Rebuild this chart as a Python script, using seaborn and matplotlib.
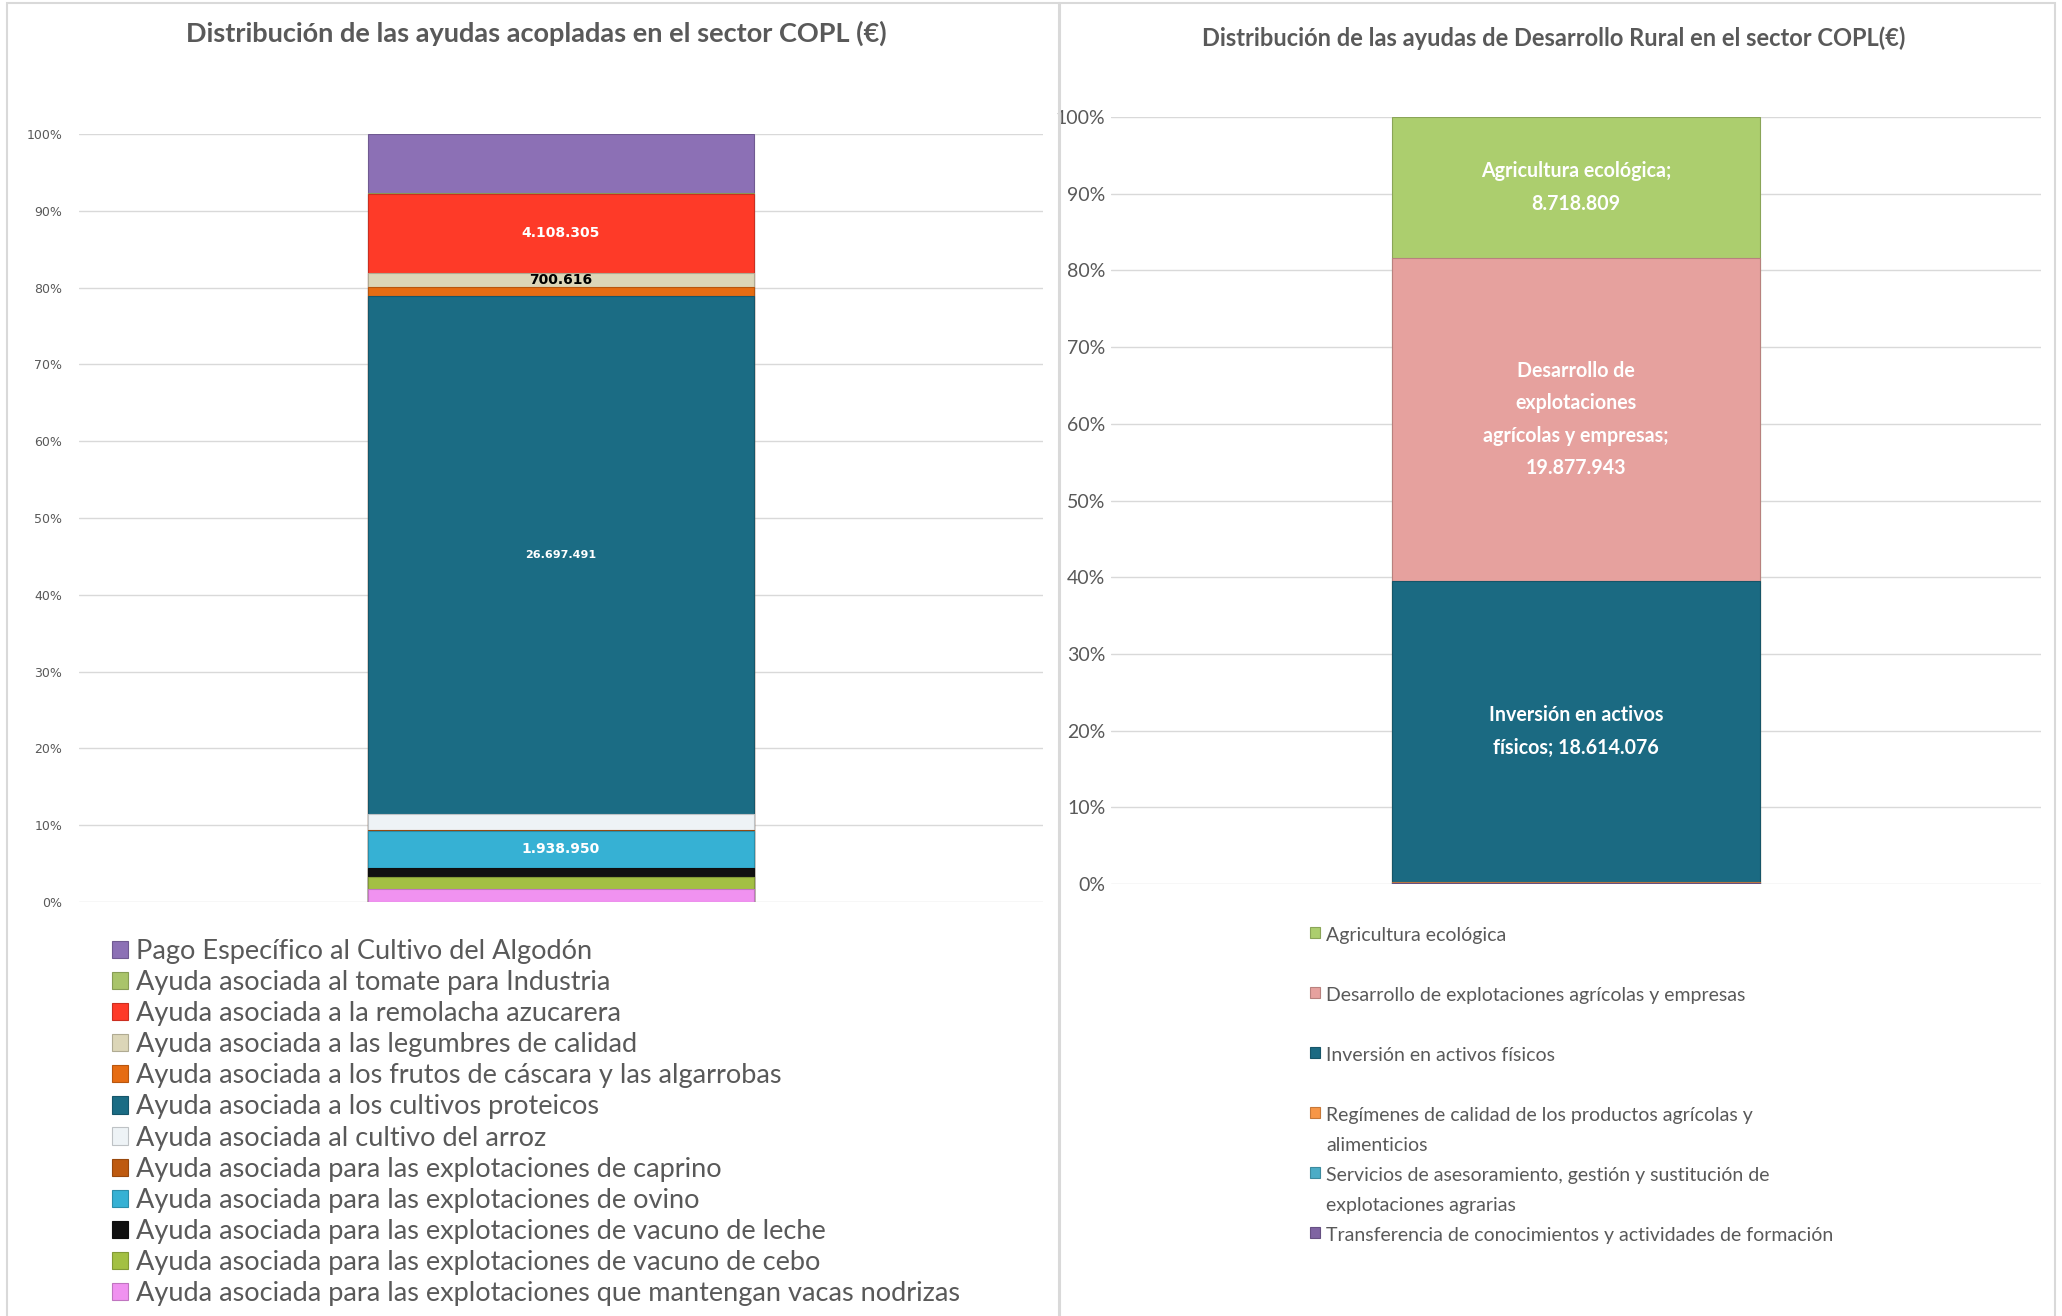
import numpy as np
import matplotlib
matplotlib.use("Agg")
import matplotlib.pyplot as plt
import matplotlib.colors as mcolors
from matplotlib.patches import Rectangle
import seaborn as sns

# ayudas acopladas (orden de la leyenda, de arriba abajo)
acop_names = [
    "Pago Específico al Cultivo del Algodón",
    "Ayuda asociada al tomate para Industria",
    "Ayuda asociada a la remolacha azucarera",
    "Ayuda asociada a las legumbres de calidad",
    "Ayuda asociada a los frutos de cáscara y las algarrobas",
    "Ayuda asociada a los cultivos proteicos",
    "Ayuda asociada al cultivo del arroz",
    "Ayuda asociada para las explotaciones de caprino",
    "Ayuda asociada para las explotaciones de ovino",
    "Ayuda asociada para las explotaciones de vacuno de leche",
    "Ayuda asociada para las explotaciones de vacuno de cebo",
    "Ayuda asociada para las explotaciones que mantengan vacas nodrizas",
]
acop_values = [3050000, 20000, 4108305, 700616, 475000, 26697491,
               830000, 40000, 1938950, 435000, 635000, 670000]
acop_colors = ["#8C70B5", "#A9C46A", "#FE3A28", "#DCD6B8", "#E66C12", "#1B6C84",
               "#EEF3F6", "#BE5A10", "#36B1D4", "#111111", "#A3C043", "#F092F0"]
acop_labeled = {"Ayuda asociada a la remolacha azucarera": "white",
                "Ayuda asociada a las legumbres de calidad": "black",
                "Ayuda asociada a los cultivos proteicos": "white",
                "Ayuda asociada para las explotaciones de ovino": "white"}

# desarrollo rural
dr_names = [
    "Agricultura ecológica",
    "Desarrollo de explotaciones agrícolas y empresas",
    "Inversión en activos físicos",
    "Regímenes de calidad de los productos agrícolas y\nalimenticios",
    "Servicios de asesoramiento, gestión y sustitución de\nexplotaciones agrarias",
    "Transferencia de conocimientos y actividades de formación",
]
dr_values = [8718809, 19877943, 18614076, 30000, 20000, 60000]
dr_colors = ["#ACCE6E", "#E6A19E", "#1B6A82", "#F79646", "#4BACC6", "#7F64A2"]
dr_text = {
    "Agricultura ecológica": "Agricultura ecológica;\n{}",
    "Desarrollo de explotaciones agrícolas y empresas": "Desarrollo de\nexplotaciones\nagrícolas y empresas;\n{}",
    "Inversión en activos físicos": "Inversión en activos\nfísicos; {}",
}

W, H = 2062, 1316
GRAY = "#595959"
CAL = ["Lato", "DejaVu Sans"]

sns.set_theme(style="white")
plt.rcParams["font.family"] = ["Lato", "DejaVu Sans"]


def fmt(v):
    return f"{v:,.0f}".replace(",", ".")


def darker(c, f=0.8):
    r, g, b = mcolors.to_rgb(c)
    return (r * f, g * f, b * f)


def stacked(ax, names, values, colors, width):
    total = sum(values)
    pct = np.array(values) / total * 100
    tops = np.cumsum(pct[::-1])[::-1]
    for top, col in zip(tops, colors):
        sns.barplot(x=[0], y=[top], color=col, width=width, saturation=1,
                    errorbar=None, edgecolor=darker(col), linewidth=0.8, ax=ax)
    ax.set_xlim(-0.5, 0.5)
    ax.set_ylim(0, 100)
    ax.set_xticks([])
    ax.set_xlabel("")
    ax.set_yticks(range(0, 101, 10))
    ax.set_yticklabels([f"{t}%" for t in range(0, 101, 10)])
    ax.yaxis.grid(True, color="#D9D9D9", lw=1)
    ax.set_axisbelow(True)
    for s in ax.spines.values():
        s.set_visible(False)
    return tops, pct


fig = plt.figure(figsize=(W / 100, H / 100), dpi=100)

# marcos de los dos gráficos
fig.add_artist(Rectangle((7 / W, -0.01), (1059 - 7) / W, 1 - 3 / H + 0.01,
                         transform=fig.transFigure, fill=False, ec="#D9D9D9", lw=1.5))
fig.add_artist(Rectangle((1060 / W, -0.01), (2055 - 1060) / W, 1 - 3 / H + 0.01,
                         transform=fig.transFigure, fill=False, ec="#D9D9D9", lw=1.5))

# ---- izquierda
ax1 = fig.add_axes([79 / W, 1 - 902 / H, 964 / W, 768 / H])
tops, pct = stacked(ax1, acop_names, acop_values, acop_colors, 0.4)
ax1.tick_params(axis="y", length=0, pad=12, labelsize=9, labelcolor=GRAY)
for lab in ax1.get_yticklabels():
    lab.set_family("DejaVu Sans")
for name, top, p, v in zip(acop_names, tops, pct, acop_values):
    if name in acop_labeled:
        size = 8 if p > 30 else 10
        ax1.text(0, top - p / 2, fmt(v), ha="center", va="center", fontsize=size,
                 fontweight="bold", color=acop_labeled[name], family="DejaVu Sans")
leg1 = ax1.legend(ax1.patches, acop_names, loc="upper left",
                  bbox_to_anchor=(112 / W, 1 - 939 / H), bbox_transform=fig.transFigure,
                  frameon=False, borderpad=0, borderaxespad=0,
                  handlelength=0.6, handleheight=0.6, handletextpad=0.3,
                  labelspacing=0.225, prop={"family": CAL, "size": 19.5})
for t in leg1.get_texts():
    t.set_color(GRAY)
fig.text(536 / W, 1 - 33 / H, "Distribución de las ayudas acopladas en el sector COPL (€)",
         ha="center", va="center", fontsize=19.5, fontweight="bold", color=GRAY, family=CAL)

# ---- derecha
ax2 = fig.add_axes([1111 / W, 1 - 884 / H, 930 / W, 767 / H])
tops, pct = stacked(ax2, dr_names, dr_values, dr_colors, 0.395)
ax2.tick_params(axis="y", length=0, pad=4, labelsize=14, labelcolor=GRAY)
for name, top, p, v in zip(dr_names, tops, pct, dr_values):
    if name in dr_text:
        ax2.text(0, top - p / 2, dr_text[name].format(fmt(v)), ha="center", va="center",
                 fontsize=14.1, fontweight="bold", color="white", family=CAL, linespacing=1.78)
dr_labels = [n if "\n" in n else n + "\n " for n in dr_names]
leg2 = ax2.legend(ax2.patches, dr_labels, loc="upper left",
                  bbox_to_anchor=(1310 / W, 1 - 927 / H), bbox_transform=fig.transFigure,
                  frameon=False, borderpad=0, borderaxespad=0,
                  handlelength=0.52, handleheight=0.52, handletextpad=0.3,
                  labelspacing=0.66, prop={"family": CAL, "size": 14})
for t in leg2.get_texts():
    t.set_color(GRAY)
    t.set_linespacing(1.94)
for col in leg2._legend_handle_box.get_children():
    for row in col.get_children():
        row.align = "top"
fig.text(1554 / W, 1 - 38 / H, "Distribución de las ayudas de Desarrollo Rural en el sector COPL(€)",
         ha="center", va="center", fontsize=17, fontweight="bold", color=GRAY, family=CAL)

fig.savefig("out.png", dpi=100, facecolor="white")
